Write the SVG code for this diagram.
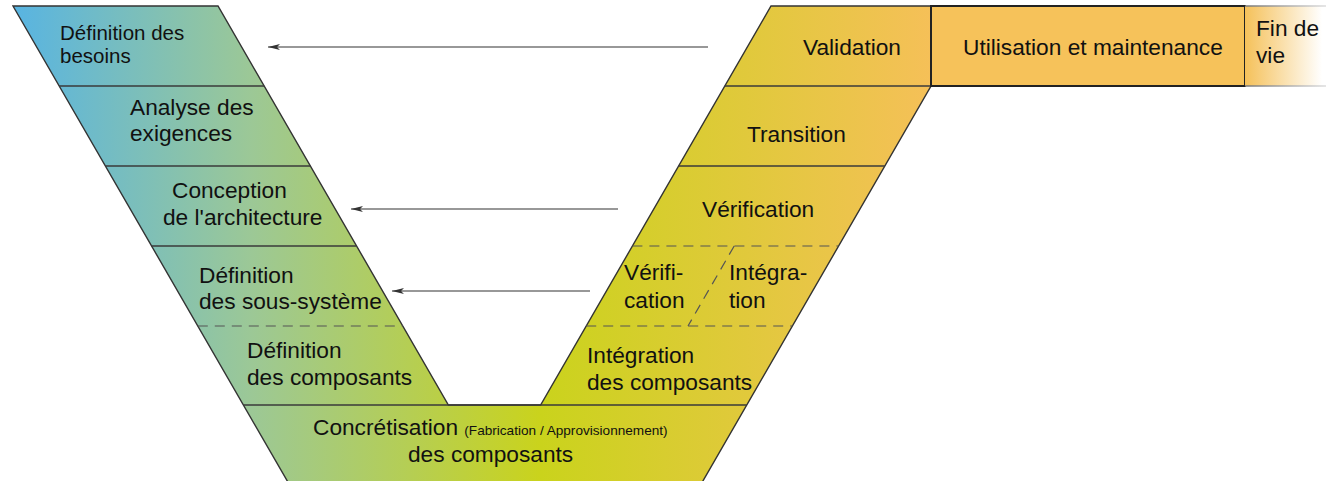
<svg xmlns="http://www.w3.org/2000/svg" width="1326" height="481" viewBox="0 0 1326 481">
<defs>
<linearGradient id="vgrad" gradientUnits="userSpaceOnUse" x1="13" y1="0" x2="931" y2="0">
<stop offset="0" stop-color="#58b4e2"/>
<stop offset="0.26" stop-color="#9cc896"/>
<stop offset="0.575" stop-color="#cad31c"/>
<stop offset="1" stop-color="#f5c058"/>
</linearGradient>
<linearGradient id="fgrad" gradientUnits="userSpaceOnUse" x1="1245" y1="0" x2="1322" y2="0">
<stop offset="0" stop-color="#f5c15a"/>
<stop offset="1" stop-color="#ffffff"/>
</linearGradient>
<linearGradient id="fline" gradientUnits="userSpaceOnUse" x1="1245" y1="0" x2="1326" y2="0">
<stop offset="0" stop-color="#777"/>
<stop offset="1" stop-color="#ddd"/>
</linearGradient>
<marker id="ah" viewBox="0 0 12 7" refX="12" refY="3.5" markerWidth="12" markerHeight="7" markerUnits="userSpaceOnUse" orient="auto">
<path d="M0,0.5 L12,3.5 L0,6.5 L3,3.5 Z" fill="#333"/>
</marker>
</defs>
<style>
.t{font-family:"Liberation Sans",Arial,sans-serif;font-size:22.7px;fill:#111}
.ts{font-family:"Liberation Sans",Arial,sans-serif;font-size:20.5px;fill:#111}
.tx{font-family:"Liberation Sans",Arial,sans-serif;font-size:13.6px;fill:#111}
.sol{stroke:#3a3a3a;stroke-width:1.3;fill:none}
.dash{stroke:#555;stroke-width:1.2;stroke-dasharray:10 7;fill:none}
.arr{stroke:#333;stroke-width:1.2;fill:none}
</style>
<g id="v-shape">
<path d="M13,6 L218,6 L448.4,405 L540.6,405 L771,6 L931,6 L931,86 L697.7,490 L292.5,490 Z" fill="url(#vgrad)" stroke="#333" stroke-width="1.4"/>
</g>
<g id="dividers">
<line class="sol" x1="59.2" y1="86" x2="264.2" y2="86"/>
<line class="sol" x1="105.4" y1="166" x2="310.4" y2="166"/>
<line class="sol" x1="151.6" y1="246" x2="356.6" y2="246"/>
<line class="dash" x1="197.8" y1="326" x2="402.8" y2="326"/>
<line class="sol" x1="243.4" y1="405" x2="746.8" y2="405"/>
<line class="sol" x1="724.8" y1="86" x2="931" y2="86"/>
<line class="sol" x1="678.6" y1="166" x2="884.8" y2="166"/>
<line class="dash" x1="632.4" y1="246" x2="838.6" y2="246"/>
<line class="dash" x1="586.2" y1="326" x2="792.4" y2="326"/>
<line class="dash" x1="734.2" y1="246" x2="688" y2="326"/>
</g>
<g id="n-besoins"><text class="ts" x="60" y="40">Définition des</text><text class="ts" x="60" y="63">besoins</text></g>
<g id="n-exigences"><text class="t" x="130" y="115">Analyse des</text><text class="t" x="130" y="141">exigences</text></g>
<g id="n-architecture"><text class="t" x="172" y="198">Conception</text><text class="t" x="163" y="225">de l'architecture</text></g>
<g id="n-sous-systeme"><text class="t" x="199" y="283">Définition</text><text class="t" x="199" y="309">des sous-système</text></g>
<g id="n-def-composants"><text class="t" x="247" y="358">Définition</text><text class="t" x="247" y="385">des composants</text></g>
<g id="n-concretisation"><text class="t" x="313" y="435">Concrétisation <tspan class="tx">(Fabrication / Approvisionnement)</tspan></text><text class="t" x="408" y="462">des composants</text></g>
<g id="n-integration-composants"><text class="t" x="587" y="363">Intégration</text><text class="t" x="587" y="390">des composants</text></g>
<g id="n-verif-small"><text class="t" x="624" y="280">Vérifi-</text><text class="t" x="624" y="308">cation</text></g>
<g id="n-integ-small"><text class="t" x="729" y="280">Intégra-</text><text class="t" x="729" y="308">tion</text></g>
<g id="n-verification"><text class="t" x="702" y="217">Vérification</text></g>
<g id="n-transition"><text class="t" x="747" y="142">Transition</text></g>
<g id="n-validation"><text class="t" x="803" y="55">Validation</text></g>
<g id="n-utilisation">
<rect x="931" y="6" width="314" height="80" fill="#f6c25a" stroke="#222" stroke-width="2"/>
<text class="t" x="963" y="55">Utilisation et maintenance</text>
</g>
<g id="n-fin">
<rect x="1245" y="6" width="81" height="80" fill="url(#fgrad)"/>
<line x1="1245" y1="6" x2="1326" y2="6" stroke="url(#fline)" stroke-width="1.3"/>
<line x1="1245" y1="86" x2="1326" y2="86" stroke="url(#fline)" stroke-width="1.3"/>
<text class="t" x="1256" y="36">Fin de</text><text class="t" x="1256" y="63">vie</text>
</g>
<g id="connectors">
<line class="arr" x1="708" y1="47" x2="268" y2="47" marker-end="url(#ah)"/>
<line class="arr" x1="618" y1="209" x2="351" y2="209" marker-end="url(#ah)"/>
<line class="arr" x1="590" y1="291" x2="392" y2="291" marker-end="url(#ah)"/>
</g>
</svg>
